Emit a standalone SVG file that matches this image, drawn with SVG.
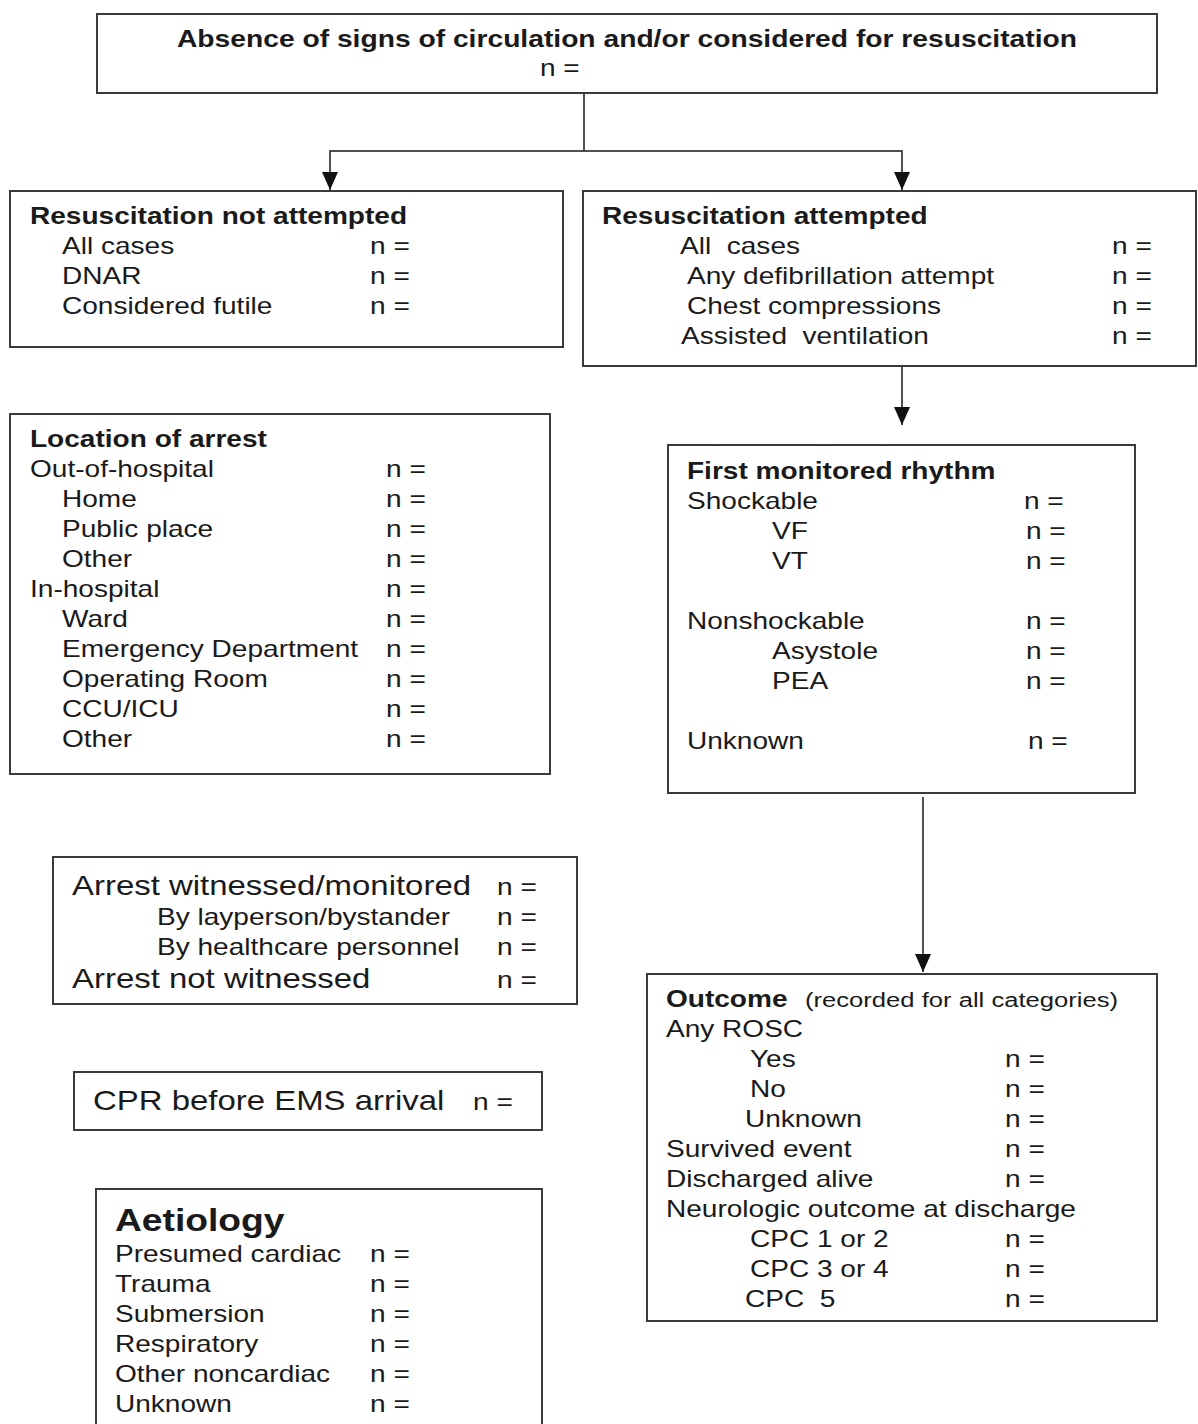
<svg xmlns="http://www.w3.org/2000/svg" width="1198" height="1424" viewBox="0 0 1198 1424">
<style>
.box{fill:#fff;stroke:#3a3a3a;stroke-width:2}
.t{font-family:"Liberation Sans",Arial,sans-serif;font-size:23px;fill:#1a1a1a;white-space:pre}
.b{font-weight:bold}
.l{font-size:27px}
.s{font-size:21px}
.h{font-size:30.5px}
.c{stroke:#1a1a1a;stroke-width:1.5;fill:none}
</style>
<defs>
<marker id="arr" markerUnits="userSpaceOnUse" markerWidth="18" markerHeight="16" refX="18" refY="8" orient="auto" viewBox="0 0 18 16">
<path d="M0,0 L18,8 L0,16 Z" fill="#111"/>
</marker>
</defs>
<rect width="1198" height="1424" fill="#fff"/>

<g id="connectors">
<line class="c" x1="584" y1="93" x2="584" y2="151"/>
<path class="c" d="M584,151 H330 V190" marker-end="url(#arr)"/>
<path class="c" d="M584,151 H902 V190" marker-end="url(#arr)"/>
<path class="c" d="M902,366 V425" marker-end="url(#arr)"/>
<path class="c" d="M923,797 V972" marker-end="url(#arr)"/>
</g>

<g id="top">
<rect class="box" x="97" y="14" width="1060" height="79"/>
<g transform="scale(1.22 1)">
<text class="t b" x="145.08" y="47" textLength="737.7" lengthAdjust="spacingAndGlyphs">Absence of signs of circulation and/or considered for resuscitation</text>
<text class="t" x="442.62" y="76">n =</text>
</g>
</g>

<g id="not-attempted">
<rect class="box" x="10" y="191" width="553" height="156"/>
<g transform="scale(1.22 1)">
<text class="t b" x="24.59" y="224">Resuscitation not attempted</text>
<text class="t" x="50.82" y="254">All cases</text>
<text class="t" x="50.82" y="284">DNAR</text>
<text class="t" x="50.82" y="314">Considered futile</text>
<text class="t" x="303.28" y="254">n =</text>
<text class="t" x="303.28" y="284">n =</text>
<text class="t" x="303.28" y="314">n =</text>
</g>
</g>

<g id="attempted">
<rect class="box" x="583" y="191" width="613" height="175"/>
<g transform="scale(1.22 1)">
<text class="t b" x="493.44" y="224">Resuscitation attempted</text>
<text class="t" x="557.38" y="254">All  cases</text>
<text class="t" x="563.11" y="284">Any defibrillation attempt</text>
<text class="t" x="563.11" y="314">Chest compressions</text>
<text class="t" x="558.20" y="344">Assisted  ventilation</text>
<text class="t" x="911.48" y="254">n =</text>
<text class="t" x="911.48" y="284">n =</text>
<text class="t" x="911.48" y="314">n =</text>
<text class="t" x="911.48" y="344">n =</text>
</g>
</g>

<g id="location">
<rect class="box" x="10" y="414" width="540" height="360"/>
<g transform="scale(1.22 1)">
<text class="t b" x="24.59" y="447">Location of arrest</text>
<text class="t" x="24.59" y="477">Out-of-hospital</text>
<text class="t" x="50.82" y="507">Home</text>
<text class="t" x="50.82" y="537">Public place</text>
<text class="t" x="50.82" y="567">Other</text>
<text class="t" x="24.59" y="597">In-hospital</text>
<text class="t" x="50.82" y="627">Ward</text>
<text class="t" x="50.82" y="657">Emergency Department</text>
<text class="t" x="50.82" y="687">Operating Room</text>
<text class="t" x="50.82" y="717">CCU/ICU</text>
<text class="t" x="50.82" y="747">Other</text>
<text class="t" x="316.39" y="477">n =</text>
<text class="t" x="316.39" y="507">n =</text>
<text class="t" x="316.39" y="537">n =</text>
<text class="t" x="316.39" y="567">n =</text>
<text class="t" x="316.39" y="597">n =</text>
<text class="t" x="316.39" y="627">n =</text>
<text class="t" x="316.39" y="657">n =</text>
<text class="t" x="316.39" y="687">n =</text>
<text class="t" x="316.39" y="717">n =</text>
<text class="t" x="316.39" y="747">n =</text>
</g>
</g>

<g id="rhythm">
<rect class="box" x="668" y="445" width="467" height="348"/>
<g transform="scale(1.22 1)">
<text class="t b" x="563.11" y="479">First monitored rhythm</text>
<text class="t" x="563.11" y="509">Shockable</text>
<text class="t" x="632.79" y="539">VF</text>
<text class="t" x="632.79" y="569">VT</text>
<text class="t" x="563.11" y="629">Nonshockable</text>
<text class="t" x="632.79" y="659">Asystole</text>
<text class="t" x="632.79" y="689">PEA</text>
<text class="t" x="563.11" y="749">Unknown</text>
<text class="t" x="839.34" y="509">n =</text>
<text class="t" x="840.98" y="539">n =</text>
<text class="t" x="840.98" y="569">n =</text>
<text class="t" x="840.98" y="629">n =</text>
<text class="t" x="840.98" y="659">n =</text>
<text class="t" x="840.98" y="689">n =</text>
<text class="t" x="842.62" y="749">n =</text>
</g>
</g>

<g id="witnessed">
<rect class="box" x="53" y="857" width="524" height="147"/>
<g transform="scale(1.22 1)">
<text class="t l" x="59.02" y="895">Arrest witnessed/monitored</text>
<text class="t" x="128.69" y="925">By layperson/bystander</text>
<text class="t" x="128.69" y="955">By healthcare personnel</text>
<text class="t l" x="59.02" y="988">Arrest not witnessed</text>
<text class="t" x="407.38" y="895">n =</text>
<text class="t" x="407.38" y="925">n =</text>
<text class="t" x="407.38" y="955">n =</text>
<text class="t" x="407.38" y="988">n =</text>
</g>
</g>

<g id="cpr">
<rect class="box" x="74" y="1072" width="468" height="58"/>
<g transform="scale(1.22 1)">
<text class="t l" x="76.23" y="1110">CPR before EMS arrival</text>
<text class="t" x="387.70" y="1110">n =</text>
</g>
</g>

<g id="outcome">
<rect class="box" x="647" y="974" width="510" height="347"/>
<g transform="scale(1.22 1)">
<text class="t b" x="545.90" y="1007">Outcome</text>
<text class="t s" x="659.84" y="1007">(recorded for all categories)</text>
<text class="t" x="545.90" y="1037">Any ROSC</text>
<text class="t" x="614.75" y="1067">Yes</text>
<text class="t" x="614.75" y="1097">No</text>
<text class="t" x="610.66" y="1127">Unknown</text>
<text class="t" x="545.90" y="1157">Survived event</text>
<text class="t" x="545.90" y="1187">Discharged alive</text>
<text class="t" x="545.90" y="1217">Neurologic outcome at discharge</text>
<text class="t" x="614.75" y="1247">CPC 1 or 2</text>
<text class="t" x="614.75" y="1277">CPC 3 or 4</text>
<text class="t" x="610.66" y="1307">CPC  5</text>
<text class="t" x="823.77" y="1067">n =</text>
<text class="t" x="823.77" y="1097">n =</text>
<text class="t" x="823.77" y="1127">n =</text>
<text class="t" x="823.77" y="1157">n =</text>
<text class="t" x="823.77" y="1187">n =</text>
<text class="t" x="823.77" y="1247">n =</text>
<text class="t" x="823.77" y="1277">n =</text>
<text class="t" x="823.77" y="1307">n =</text>
</g>
</g>

<g id="aetiology">
<rect class="box" x="96" y="1189" width="446" height="245"/>
<g transform="scale(1.22 1)">
<text class="t b h" x="94.26" y="1231">Aetiology</text>
<text class="t" x="94.26" y="1262">Presumed cardiac</text>
<text class="t" x="94.26" y="1292">Trauma</text>
<text class="t" x="94.26" y="1322">Submersion</text>
<text class="t" x="94.26" y="1352">Respiratory</text>
<text class="t" x="94.26" y="1382">Other noncardiac</text>
<text class="t" x="94.26" y="1412">Unknown</text>
<text class="t" x="303.28" y="1262">n =</text>
<text class="t" x="303.28" y="1292">n =</text>
<text class="t" x="303.28" y="1322">n =</text>
<text class="t" x="303.28" y="1352">n =</text>
<text class="t" x="303.28" y="1382">n =</text>
<text class="t" x="303.28" y="1412">n =</text>
</g>
</g>
</svg>
